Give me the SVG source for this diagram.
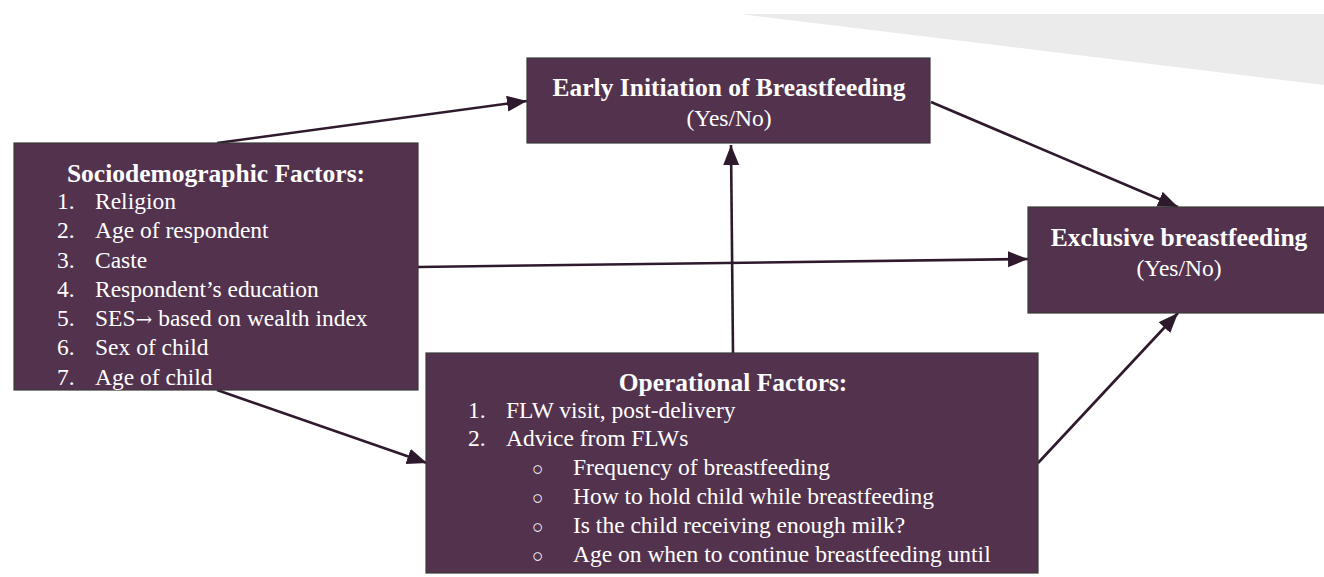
<svg xmlns="http://www.w3.org/2000/svg" width="1324" height="577" viewBox="0 0 1324 577">
<style>
.box{fill:#53324e;stroke:#3a3a3a;stroke-width:1.2}
.t{font-family:"Liberation Serif","Times New Roman",serif;fill:#ffffff}
.h{font-weight:bold;font-size:25.5px}
.i{font-size:23.5px}
.c{text-anchor:middle}
.ar{font-family:"DejaVu Serif",serif;font-size:20px}
.bul{font-size:19px}
.conn{stroke:#2e1a2c;stroke-width:2.6;fill:none;marker-end:url(#ah)}
</style>
<defs>
<marker id="ah" markerUnits="userSpaceOnUse" markerWidth="22" markerHeight="18" refX="20" refY="8" orient="auto">
<path d="M0,0 L20,8 L0,16 z" fill="#2e1a2c"/>
</marker>
</defs>
<rect width="1324" height="577" fill="#ffffff"/>
<polygon points="740,14 1324,14 1324,85" fill="#ebebeb"/>
<g id="connectors">
<line class="conn" x1="217" y1="143" x2="527" y2="101"/>
<line class="conn" x1="931" y1="102" x2="1178" y2="207"/>
<line class="conn" x1="418" y1="267" x2="1028" y2="259"/>
<line class="conn" x1="733" y1="353" x2="731" y2="145"/>
<line class="conn" x1="217" y1="390" x2="427" y2="463"/>
<line class="conn" x1="1038" y1="463" x2="1178" y2="313"/>
</g>
<g id="sociodemographic">
<rect class="box" x="14" y="143" width="404" height="247"/>
<text class="t h c" x="216" y="182">Sociodemographic Factors:</text>
<g class="t i">
<text x="57" y="209">1.</text><text x="95" y="209">Religion</text>
<text x="57" y="238">2.</text><text x="95" y="238">Age of respondent</text>
<text x="57" y="267.5">3.</text><text x="95" y="267.5">Caste</text>
<text x="57" y="297">4.</text><text x="95" y="297">Respondent’s education</text>
<text x="57" y="326">5.</text><text x="95" y="326">SES<tspan class="ar">→</tspan> based on wealth index</text>
<text x="57" y="355">6.</text><text x="95" y="355">Sex of child</text>
<text x="57" y="384.5">7.</text><text x="95" y="384.5">Age of child</text>
</g>
</g>
<g id="early-initiation">
<rect class="box" x="527" y="58" width="403" height="85"/>
<text class="t h c" x="729" y="96">Early Initiation of Breastfeeding</text>
<text class="t i c" x="729" y="126">(Yes/No)</text>
</g>
<g id="exclusive">
<rect class="box" x="1028" y="207" width="300" height="106"/>
<text class="t h c" x="1179" y="246">Exclusive breastfeeding</text>
<text class="t i c" x="1179" y="276">(Yes/No)</text>
</g>
<g id="operational">
<rect class="box" x="426" y="353" width="612" height="220"/>
<text class="t h c" x="733" y="391">Operational Factors:</text>
<g class="t i">
<text x="468" y="418">1.</text><text x="506" y="418">FLW visit, post-delivery</text>
<text x="468" y="446">2.</text><text x="506" y="446">Advice from FLWs</text>
<text class="bul" x="532" y="475">○</text><text x="573" y="475">Frequency of breastfeeding</text>
<text class="bul" x="532" y="504">○</text><text x="573" y="504">How to hold child while breastfeeding</text>
<text class="bul" x="532" y="533">○</text><text x="573" y="533">Is the child receiving enough milk?</text>
<text class="bul" x="532" y="562">○</text><text x="573" y="562">Age on when to continue breastfeeding until</text>
</g>
</g>
</svg>
